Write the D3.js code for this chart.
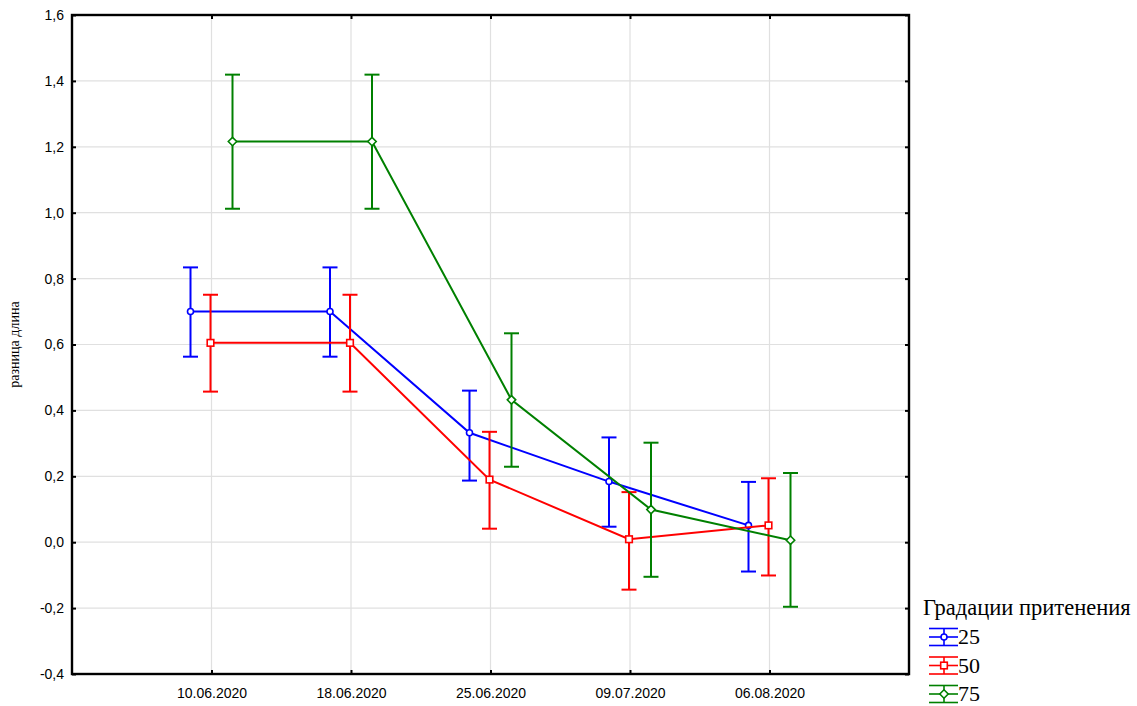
<!DOCTYPE html>
<html>
<head>
<meta charset="utf-8">
<script src="https://cdn.jsdelivr.net/npm/d3@7"></script>
<style>
  body { margin: 0; background: #fff; }
  .tick text { font-family: "Liberation Sans", Arial, sans-serif; font-size: 14px; fill: #000; }
</style>
</head>
<body>
<div id="chart"></div>
<script>
// data
var dates = ["10.06.2020", "18.06.2020", "25.06.2020", "09.07.2020", "06.08.2020"];
var groups = ["25", "50", "75"];
var mean25 = [0.700, 0.700, 0.332, 0.184, 0.051];
var low25  = [0.563, 0.563, 0.187, 0.047, -0.089];
var high25 = [0.834, 0.834, 0.460, 0.318, 0.183];
var mean50 = [0.605, 0.605, 0.190, 0.009, 0.051];
var low50  = [0.457, 0.457, 0.041, -0.144, -0.101];
var high50 = [0.751, 0.751, 0.335, 0.152, 0.194];
var mean75 = [1.216, 1.216, 0.432, 0.099, 0.006];
var low75  = [1.012, 1.012, 0.229, -0.105, -0.196];
var high75 = [1.419, 1.419, 0.634, 0.302, 0.210];
var yTicks = [-0.4, -0.2, 0.0, 0.2, 0.4, 0.6, 0.8, 1.0, 1.2, 1.4, 1.6];

var colors = ["#0000ff", "#ff0000", "#008000"];
var offsets = [-21, -1, 21];

var series = [
    {name: groups[0], mean: mean25, low: low25, high: high25, marker: "circle"},
    {name: groups[1], mean: mean50, low: low50, high: high50, marker: "square"},
    {name: groups[2], mean: mean75, low: low75, high: high75, marker: "diamond"}
];

var margin = {top: 15, right: 228, bottom: 32, left: 72};
var totalW = 1137, totalH = 706;
var width = totalW - margin.left - margin.right,
    height = totalH - margin.top - margin.bottom;

var svg = d3.select("#chart").append("svg")
    .attr("width", totalW)
    .attr("height", totalH);

var g = svg.append("g")
    .attr("transform", "translate(" + margin.left + "," + margin.top + ")");

var x = d3.scalePoint()
    .domain(dates)
    .range([0, width])
    .padding(1);

var y = d3.scaleLinear()
    .domain([-0.4, 1.6])
    .range([height, 0]);

var fmt = function(d) { return d3.format(".1f")(d).replace(".", ",").replace("\u2212", "-"); };

// grid
g.append("g").selectAll("line.hg")
    .data(yTicks.slice(1, -1))
    .enter().append("line")
    .attr("x1", 0).attr("x2", width)
    .attr("y1", function(d) { return y(d); })
    .attr("y2", function(d) { return y(d); })
    .attr("stroke", "#e0e0e0").attr("stroke-width", 1.2);

g.append("g").selectAll("line.vg")
    .data(dates)
    .enter().append("line")
    .attr("x1", function(d) { return x(d); })
    .attr("x2", function(d) { return x(d); })
    .attr("y1", 0).attr("y2", height)
    .attr("stroke", "#e0e0e0").attr("stroke-width", 1.2);

// axes, ticks point inward
var yAxis = d3.axisLeft(y).tickValues(yTicks).tickFormat(fmt).tickSizeInner(-4).tickSizeOuter(0).tickPadding(8);
var xAxis = d3.axisBottom(x).tickSizeInner(-4).tickSizeOuter(0).tickPadding(14);

var gy = g.append("g").call(yAxis);
var gx = g.append("g").attr("transform", "translate(0," + height + ")").call(xAxis);
g.append("g").attr("transform", "translate(" + width + ",0)")
    .call(d3.axisRight(y).tickValues(yTicks).tickFormat("").tickSizeInner(-4).tickSizeOuter(0));
g.append("g")
    .call(d3.axisTop(x).tickFormat("").tickSizeInner(-4).tickSizeOuter(0));

g.selectAll(".domain").remove();
g.selectAll(".tick line").attr("stroke", "#000").attr("stroke-width", 2);

g.append("rect")
    .attr("width", width).attr("height", height)
    .attr("fill", "none").attr("stroke", "#000").attr("stroke-width", 2.4);

// y title
svg.append("text")
    .attr("transform", "translate(19," + (margin.top + height / 2) + ") rotate(-90)")
    .attr("text-anchor", "middle")
    .style("font-family", "'Liberation Serif', 'Times New Roman', serif")
    .style("font-size", "14px")
    .text("разница длина");

function drawMarker(sel, type, color, cx, cy) {
    if (type === "circle") {
        sel.append("circle").attr("cx", cx).attr("cy", cy).attr("r", 3)
            .attr("fill", "#fff").attr("stroke", color).attr("stroke-width", 1.6);
    } else if (type === "square") {
        sel.append("rect").attr("x", cx - 3.3).attr("y", cy - 3.3).attr("width", 6.6).attr("height", 6.6)
            .attr("fill", "#fff").attr("stroke", color).attr("stroke-width", 1.6);
    } else {
        sel.append("path")
            .attr("d", "M" + cx + "," + (cy - 4.2) + "L" + (cx + 4.2) + "," + cy + "L" + cx + "," + (cy + 4.2) + "L" + (cx - 4.2) + "," + cy + "Z")
            .attr("fill", "#fff").attr("stroke", color).attr("stroke-width", 1.6);
    }
}

var line = d3.line();

series.forEach(function(s, i) {
    var col = colors[i], off = offsets[i];
    var sg = g.append("g");
    var px = function(j) { return x(dates[j]) + off; };

    // error bars
    dates.forEach(function(d, j) {
        sg.append("line")
            .attr("x1", px(j)).attr("x2", px(j))
            .attr("y1", y(s.low[j])).attr("y2", y(s.high[j]))
            .attr("stroke", col).attr("stroke-width", 2);
        [s.low[j], s.high[j]].forEach(function(v) {
            sg.append("line")
                .attr("x1", px(j) - 7.5).attr("x2", px(j) + 7.5)
                .attr("y1", y(v)).attr("y2", y(v))
                .attr("stroke", col).attr("stroke-width", 2);
        });
    });

    sg.append("path")
        .attr("d", line(dates.map(function(d, j) { return [px(j), y(s.mean[j])]; })))
        .attr("fill", "none").attr("stroke", col).attr("stroke-width", 2);

    dates.forEach(function(d, j) {
        drawMarker(sg, s.marker, col, px(j), y(s.mean[j]));
    });
});

// legend
var lg = svg.append("g").attr("transform", "translate(923,615)");
lg.append("text")
    .attr("x", 0).attr("y", 0)
    .style("font-family", "'Liberation Serif', 'Times New Roman', serif")
    .style("font-size", "22.5px")
    .text("Градации притенения");

series.forEach(function(s, i) {
    var cy = 22 + i * 28.5;
    var col = colors[i];
    var row = lg.append("g");
    [-8.5, 0, 8.5].forEach(function(dy) {
        row.append("line")
            .attr("x1", 6).attr("x2", 35)
            .attr("y1", cy + dy).attr("y2", cy + dy)
            .attr("stroke", col).attr("stroke-width", 1.6);
    });
    row.append("line")
        .attr("x1", 21).attr("x2", 21)
        .attr("y1", cy - 8.5).attr("y2", cy + 8.5)
        .attr("stroke", col).attr("stroke-width", 1.6);
    drawMarker(row, s.marker, col, 21, cy);
    row.append("text")
        .attr("x", 35).attr("y", cy + 7)
        .style("font-family", "'Liberation Serif', 'Times New Roman', serif")
        .style("font-size", "22px")
        .text(s.name);
});
</script>
</body>
</html>
